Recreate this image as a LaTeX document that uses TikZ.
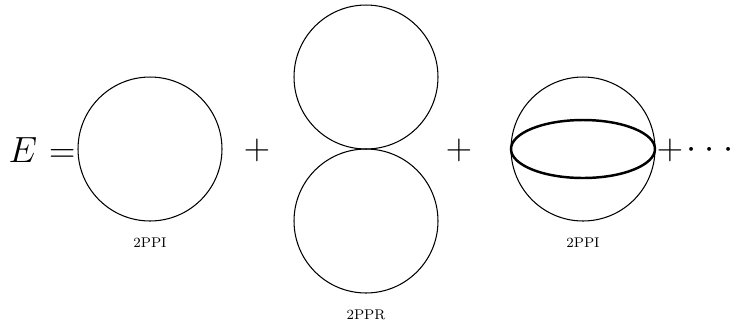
\documentclass[tikz,border=0pt]{standalone}
\usepackage{amsmath}
\usetikzlibrary{shapes.geometric, positioning}
\tikzset{
  bubble/.style={circle, draw, minimum size=2.88cm, inner sep=0pt, line width=0.6pt},
  rung/.style={ellipse, draw, minimum width=2.88cm, minimum height=1.16cm, inner sep=0pt, line width=1.4pt},
  tag/.style={font=\fontsize{8}{10}\selectfont, inner sep=0pt},
  bigmath/.style={font=\fontsize{20}{24}\selectfont, inner sep=0pt}
}

\begin{document}
\begin{tikzpicture}[x=0.02cm, y=-0.02cm]
  \useasboundingbox (0,0) rectangle (731,326);

  % Left hand side
  \node[bigmath] (lhs) at (42,150) {$E\mkern1mu=$};

  % First diagram
  \node[bubble] (c1) at (150,149) {};
  \node[tag] (l1) at (150,243) {2PPI};
  \node[bigmath] (p1) at (257,150) {$+$};

  % Figure eight
  \node[bubble] (c2) at (366,77) {};
  \node[bubble] (c3) at (366,221) {};
  \node[tag] (l2) at (366,315) {2PPR};
  \node[bigmath] (p2) at (459,150) {$+$};

  % Sunset
  \node[bubble] (c4) at (583,149) {};
  \node[rung] (e4) at (583,149) {};
  \node[tag] (l3) at (583,243) {2PPI};
  \node[bigmath] (p3) at (670,150) {$+$};
  \node[bigmath] (dots) at (710,150) {$\cdotp\mkern1mu\cdotp\mkern1mu\cdotp$};
\end{tikzpicture}
\end{document}
